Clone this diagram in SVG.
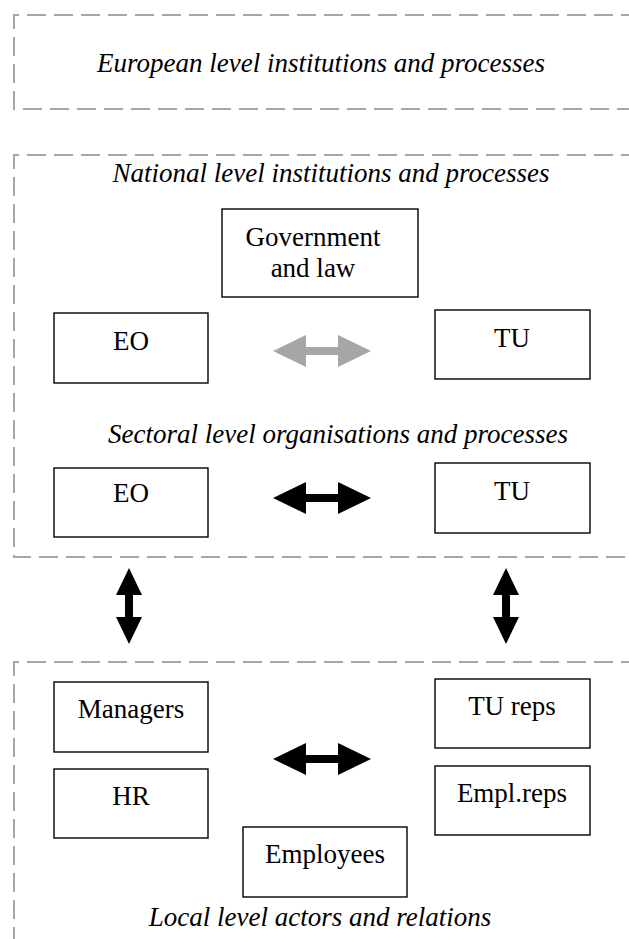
<svg xmlns="http://www.w3.org/2000/svg" xmlns:xlink="http://www.w3.org/1999/xlink" width="629" height="939" viewBox="0 0 629 939">
<style>
.lvl{fill:none;stroke:#a6a6a6;stroke-width:2;stroke-dasharray:19 8}
.box{fill:#fff;stroke:#000;stroke-width:1.4}
.t{font-family:"Liberation Serif","Times New Roman",serif;font-size:27px;fill:#000;text-anchor:middle}
.ti{font-family:"Liberation Serif","Times New Roman",serif;font-size:27px;font-style:italic;fill:#000;text-anchor:middle}
.blk{fill:#000}
.gry{fill:#a6a6a6}
</style>
<defs>
<path id="harrow" d="M0,0 L33,-16 L33,-4 L65,-4 L65,-16 L98,0 L65,16 L65,4 L33,4 L33,16 Z"/>
<path id="varrow" d="M0,0 L13,27 L4,27 L4,49 L13,49 L0,76 L-13,49 L-4,49 L-4,27 L-13,27 Z"/>
</defs>

<g id="european-level">
<path class="lvl" d="M640,15 H14 V109 H640"/>
<text class="ti" x="321" y="72">European level institutions and processes</text>
</g>

<g id="national-level">
<path class="lvl" d="M640,155 H14 V557 H640"/>
<text class="ti" x="331" y="182">National level institutions and processes</text>
<text class="ti" x="338" y="443">Sectoral level organisations and processes</text>
</g>

<g id="local-level">
<path class="lvl" d="M640,662 H14 V945"/>
<text class="ti" x="320" y="926">Local level actors and relations</text>
</g>

<g id="gov">
<rect class="box" x="222" y="209" width="196" height="88"/>
<text class="t" x="313" y="246">Government</text>
<text class="t" x="313" y="277">and law</text>
</g>
<g id="eo-national">
<rect class="box" x="54" y="313" width="154" height="70"/>
<text class="t" x="131" y="350">EO</text>
</g>
<g id="tu-national">
<rect class="box" x="435" y="310" width="155" height="69"/>
<text class="t" x="512" y="347">TU</text>
</g>
<g id="eo-sectoral">
<rect class="box" x="54" y="468" width="154" height="69"/>
<text class="t" x="131" y="502">EO</text>
</g>
<g id="tu-sectoral">
<rect class="box" x="435" y="463" width="155" height="70"/>
<text class="t" x="512" y="500">TU</text>
</g>
<g id="managers">
<rect class="box" x="54" y="682" width="154" height="70"/>
<text class="t" x="131" y="718">Managers</text>
</g>
<g id="hr">
<rect class="box" x="54" y="769" width="154" height="69"/>
<text class="t" x="131" y="805">HR</text>
</g>
<g id="tu-reps">
<rect class="box" x="435" y="679" width="155" height="69"/>
<text class="t" x="512" y="715">TU reps</text>
</g>
<g id="empl-reps">
<rect class="box" x="435" y="766" width="155" height="69"/>
<text class="t" x="512" y="802">Empl.reps</text>
</g>
<g id="employees">
<rect class="box" x="243" y="827" width="164" height="70"/>
<text class="t" x="325" y="863">Employees</text>
</g>

<g id="connectors">
<use xlink:href="#harrow" class="gry" transform="translate(273,351)"/>
<use xlink:href="#harrow" class="blk" transform="translate(273,498)"/>
<use xlink:href="#harrow" class="blk" transform="translate(273,759)"/>
<use xlink:href="#varrow" class="blk" transform="translate(129,568)"/>
<use xlink:href="#varrow" class="blk" transform="translate(506,568)"/>
</g>
</svg>
